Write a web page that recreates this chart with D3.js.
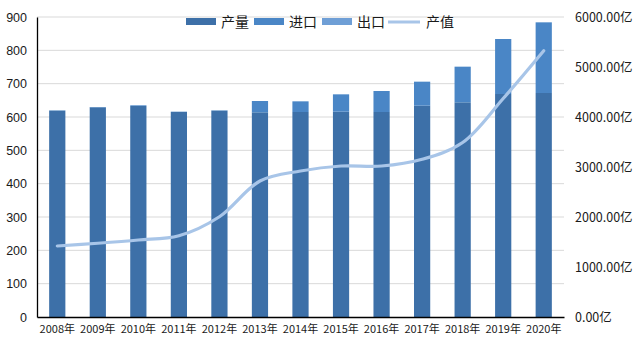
<!DOCTYPE html>
<html><head><meta charset="utf-8">
<script src="https://cdn.jsdelivr.net/npm/d3@7"></script>
<style>
html,body{margin:0;padding:0;background:#fff;}
text{font-family:"Noto Sans CJK SC","Noto Sans",sans-serif;fill:#1a1a1a;}
</style></head>
<body>
<svg id="c" width="640" height="354"></svg>
<script>
const years = ["2008年","2009年","2010年","2011年","2012年","2013年","2014年","2015年","2016年","2017年","2018年","2019年","2020年"];
const production = [619, 629, 633, 615, 619, 614, 615, 616, 615, 634, 644, 669, 672];
const imports    = [1, 1, 2, 1, 1, 34, 32, 52, 63, 72, 107, 165, 212];
const exports_   = [0, 0, 0, 0, 0, 0, 0, 0, 0, 0, 0, 0, 0];
const outputValue = [1420, 1475, 1540, 1625, 2005, 2720, 2920, 3020, 3020, 3155, 3490, 4370, 5325];
const leftTicks = [0,100,200,300,400,500,600,700,800,900];
const rightTicks = [0,1000,2000,3000,4000,5000,6000];
const seriesNames = ["产量","进口","出口","产值"];
const colors = ["#3d70a8","#4a86c6","#6f9fd6","#a8c5e8"];

const svg = d3.select("#c");
const m = {l:37, r:564, t:17, b:317};
const x = d3.scaleBand().domain(years).range([m.l, m.r]).paddingInner(0.6).paddingOuter(0.3);
const yL = d3.scaleLinear().domain([0,900]).range([m.b, m.t]);
const yR = d3.scaleLinear().domain([0,6000]).range([m.b, m.t]);

// gridlines
svg.append("g").selectAll("line").data(leftTicks.filter(d=>d>0)).join("line")
  .attr("x1", m.l).attr("x2", m.r).attr("y1", d=>yL(d)).attr("y2", d=>yL(d))
  .attr("stroke","#d9d9d9").attr("stroke-width",1);

// stacked bars
const rows = years.map((y,i)=>({year:y, 产量:production[i], 进口:imports[i], 出口:exports_[i]}));
const stack = d3.stack().keys(["产量","进口","出口"])(rows);
svg.append("g").selectAll("g").data(stack).join("g")
  .attr("fill",(d,i)=>colors[i])
  .selectAll("rect").data(d=>d).join("rect")
  .attr("x", d=>x(d.data.year)).attr("width", x.bandwidth())
  .attr("y", d=>yL(d[1])).attr("height", d=>yL(d[0])-yL(d[1]));

// line
const line = d3.line().x((d,i)=>x(years[i])+x.bandwidth()/2).y(d=>yR(d)).curve(d3.curveCatmullRom.alpha(0.5));
svg.append("path").datum(outputValue).attr("d", line)
  .attr("fill","none").attr("stroke",colors[3]).attr("stroke-width",3.2).attr("stroke-linecap","round");

// left axis
const axL = svg.append("g").attr("transform",`translate(${m.l},0)`)
  .call(d3.axisLeft(yL).tickValues(leftTicks).tickSize(0).tickPadding(10));
axL.select(".domain").attr("stroke","#000").attr("stroke-width",1.3);
axL.selectAll("text").style("font-size","12.5px").style("font-family","'Liberation Sans',sans-serif").attr("fill","#1a1a1a");

// right axis
const axR = svg.append("g").attr("transform",`translate(${m.r},0)`)
  .call(d3.axisRight(yR).tickValues(rightTicks).tickSize(0).tickPadding(11).tickFormat(d=>d3.format(".2f")(d)+"亿"));
axR.select(".domain").remove();
axR.selectAll("text").style("font-size","12.5px").attr("fill","#1a1a1a");

// bottom axis
const axB = svg.append("g").attr("transform",`translate(0,${m.b})`)
  .call(d3.axisBottom(x).tickSize(0).tickPadding(8));
axB.select(".domain").attr("stroke","#000").attr("stroke-width",1.3);
axB.selectAll("text").style("font-size","11px").attr("fill","#1a1a1a");

// legend
const lg = svg.append("g").attr("transform","translate(186,22)");
const legX = [0, 68, 136, 202];
seriesNames.forEach((n,i)=>{
  const g = lg.append("g").attr("transform",`translate(${legX[i]},0)`);
  if(i<3){
    g.append("rect").attr("x",0).attr("y",-4).attr("width",30).attr("height",7).attr("fill",colors[i]);
  } else {
    g.append("line").attr("x1",0).attr("x2",32).attr("y1",0).attr("y2",0).attr("stroke",colors[i]).attr("stroke-width",3);
  }
  g.append("text").attr("x", i<3?35:38).attr("y",0).attr("dy","0.36em").style("font-size","14px").text(n);
});
</script>
</body></html>
